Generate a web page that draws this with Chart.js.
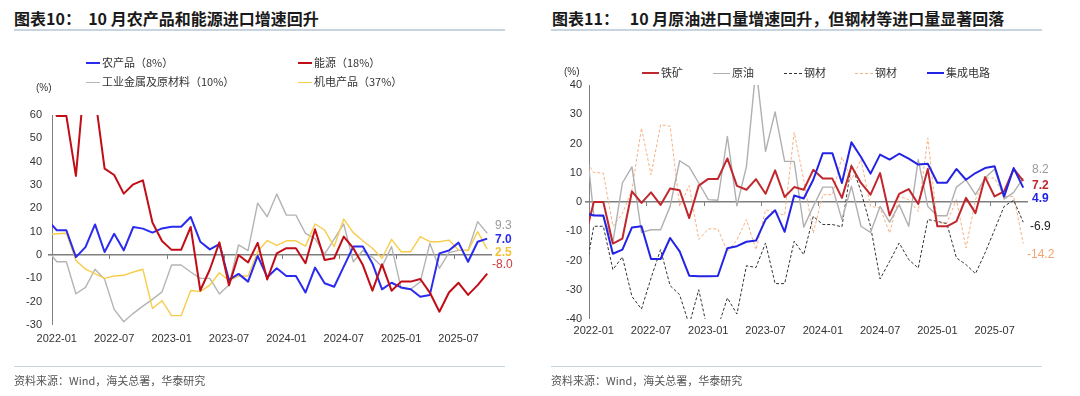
<!DOCTYPE html>
<html lang="zh-CN">
<head>
<meta charset="utf-8">
<title>进口增速</title>
<script src="https://cdn.jsdelivr.net/npm/chart.js@4.4.0/dist/chart.umd.min.js"></script>
<style>
  html, body { margin: 0; padding: 0; background: #fff; }
  body { width: 1080px; height: 396px; position: relative; overflow: hidden;
         font-family: "Liberation Sans", Arial, "Noto Sans CJK SC", sans-serif; }
  .title { position: absolute; top: 8px; font-family: "Noto Sans CJK SC", sans-serif; font-weight: 700;
           font-size: 16px; line-height: 20px; color: #1a1a1a; white-space: nowrap; }
  .rule { position: absolute; top: 29px; height: 2px; background: #c8d4e0; }
  .src-rule { position: absolute; top: 366px; height: 1px; background: #c8d4e0; }
  .source { position: absolute; top: 372px; font-family: "Noto Sans CJK SC", sans-serif; font-size: 11px;
            line-height: 16px; color: #555; white-space: nowrap; }
  .box { position: absolute; top: 0; width: 540px; height: 396px; }
  .lg { position: absolute; font-family: "Noto Sans CJK SC", sans-serif; font-size: 11px; line-height: 14px;
        color: #333; white-space: nowrap; }
  .sw { display: inline-block; width: 14px; height: 0; vertical-align: middle; margin-right: 2px; position: relative; top: -1px; }
  .unit { position: absolute; font-size: 10px; color: #333; line-height: 12px; }
  .end { position: absolute; font-size: 12px; line-height: 14px; font-family: "Liberation Sans", Arial, sans-serif; }
</style>
</head>
<body>

<div class="title" style="left:14px;">图表10：&nbsp; 10 月农产品和能源进口增速回升</div>
<div class="rule" style="left:14px; width:491px;"></div>
<div class="title" style="left:552px;">图表11：&nbsp;&nbsp; 10 月原油进口量增速回升，但钢材等进口量显著回落</div>
<div class="rule" style="left:551px; width:491px;"></div>

<div class="box" style="left:0;"><canvas id="leftChart" width="540" height="396"></canvas></div>
<div class="box" style="left:540px;"><canvas id="rightChart" width="540" height="396"></canvas></div>

<!-- 图例：左图 -->
<div class="lg" style="left:86px; top:55px;"><span class="sw" style="border-top:2px solid #2b2bef;"></span>农产品（8%）</div>
<div class="lg" style="left:298px; top:55px;"><span class="sw" style="border-top:2px solid #c00d16;"></span>能源（18%）</div>
<div class="lg" style="left:86px; top:74px;"><span class="sw" style="border-top:1px solid #b4b4b4;"></span>工业金属及原材料（10%）</div>
<div class="lg" style="left:298px; top:74px;"><span class="sw" style="border-top:1px solid #f7cd4c;"></span>机电产品（37%）</div>
<div class="unit" style="left:36px; top:82px;">(%)</div>

<!-- 图例：右图 -->
<div class="unit" style="left:564px; top:66px;">(%)</div>
<div class="lg" style="left:642px; top:65px;"><span class="sw" style="width:17px; border-top:2px solid #c0282e;"></span>铁矿</div>
<div class="lg" style="left:713px; top:65px;"><span class="sw" style="width:17px; border-top:1px solid #b0b0b0;"></span>原油</div>
<div class="lg" style="left:784px; top:65px;"><span class="sw" style="width:18px; border-top:1px dashed #333;"></span>钢材</div>
<div class="lg" style="left:855px; top:65px;"><span class="sw" style="width:18px; border-top:1px dashed #f4b183;"></span>钢材</div>
<div class="lg" style="left:927px; top:65px;"><span class="sw" style="width:17px; border-top:2px solid #2323e6;"></span>集成电路</div>

<!-- 末值标注 -->
<div class="end" style="left:495px; top:218px; color:#9a9a9a;">9.3</div>
<div class="end" style="left:495px; top:232px; color:#2b2bef; font-weight:700;">7.0</div>
<div class="end" style="left:495px; top:245px; color:#f3c13a; font-weight:700;">2.5</div>
<div class="end" style="left:492px; top:257px; color:#d03a3a;">-8.0</div>

<div class="end" style="left:1032px; top:162px; color:#9a9a9a;">8.2</div>
<div class="end" style="left:1032px; top:178px; color:#c0282e; font-weight:700;">7.2</div>
<div class="end" style="left:1032px; top:191px; color:#2323e6; font-weight:700;">4.9</div>
<div class="end" style="left:1030px; top:219px; color:#222;">-6.9</div>
<div class="end" style="left:1027px; top:247px; color:#f4a46e;">-14.2</div>

<div class="src-rule" style="left:14px; width:491px;"></div>
<div class="src-rule" style="left:551px; width:491px;"></div>
<div class="source" style="left:14px;">资料来源：Wind，海关总署，华泰研究</div>
<div class="source" style="left:551px;">资料来源：Wind，海关总署，华泰研究</div>

<script>
// ---------------- 数据 ----------------
// 月份（首个月份只用于画出坐标轴左侧被裁掉的那一小段）
const months = [
  '2021-12',
  '2022-01','2022-02','2022-03','2022-04','2022-05','2022-06','2022-07','2022-08','2022-09','2022-10','2022-11','2022-12',
  '2023-01','2023-02','2023-03','2023-04','2023-05','2023-06','2023-07','2023-08','2023-09','2023-10','2023-11','2023-12',
  '2024-01','2024-02','2024-03','2024-04','2024-05','2024-06','2024-07','2024-08','2024-09','2024-10','2024-11','2024-12',
  '2025-01','2025-02','2025-03','2025-04','2025-05','2025-06','2025-07','2025-08','2025-09','2025-10'
];
const xTickLabels = ['2022-01','2022-07','2023-01','2023-07','2024-01','2024-07','2025-01','2025-07'];

// 图表10：进口金额同比（%）
const agriProducts = [15.2, 10.6, 10.6, -0.9, 3.4, 13.1, 1.3, 9.1, 2.0, 12.0, 11.3, 9.6, 11.4, 12.1, 12.1, 16.3, 5.7, 2.4, 4.7,
  -10.7, -8.1, -11.4, -0.4, -9.5, -5.7, -9.0, -9.0, -16.1, -5.4, -12.1, -13.6, -5.0, 3.6, 3.6, -3.6, -14.7, -11.9, -13.9,
  -14.7, -17.9, -17.1, 0.7, 1.9, 5.3, -2.9, 5.7, 7.0];
const energy = [70, 59.6, 59.6, 33.9, 80, 68, 37, 34.3, 26.3, 30.3, 32, 13.9, 6, 2.2, 2.2, 12, -15.2, -6.2, 5.4, -13, 0, -3.2,
  5.2, -10.5, 0.7, 2.9, 2.9, -3.5, 11, -2.1, -1.4, 7.9, 2.9, -4.3, -15.3, -4, -15.3, -11.4, -11.4, -10.3, -16.1, -24.3,
  -16.1, -11.9, -17.1, -12.9, -8.0];
const metals = [2.1, -2.9, -2.9, -16.6, -13.9, -6.1, -10.4, -23.3, -28.6, -25, -21.9, -19, -15.8, -4.3, -4.3, -7.3, -10, -10,
  -16.7, -12.9, 4.3, 1.9, 22.2, 16.4, 26.1, 17.1, 17.1, 9.3, 7, 0.4, 6.8, 13.3, -2.9, 1.9, -1, -5, 3.6, -14.3, -14.7, -11.5,
  5, -5.7, 1, 2, 2, 14.3, 9.3];
const electromech = [8.7, 9.1, 9.3, -2.3, -6.1, -8, -10, -9, -8.7, -7.3, -6.1, -22.9, -19.6, -26, -26, -15.2, -15.7, -12.9,
  -7.6, -11, -9, -9, 1.4, 6.2, 4.1, 6.1, 6.1, 3.8, 13.3, 10.7, 3.6, 15.4, 9.6, 6.1, 2.9, -1.4, 6.7, 1.4, 1.4, 7.9, 5.7, 5.7,
  6.4, 2.1, 1.9, 10, 2.5];

// 图表11：进口数量同比（%）
const ironOre = [-13.2, 0, 0, -14.2, -12.5, 3.6, -0.3, 3.3, -1, 4.6, 4, -5.5, 5.6, 7.9, 7.9, 14.9, 5.5, 4.2, 7.8, 2.8, 10.8,
  1.7, 5.1, 4.2, 11, 8, 8, 1.4, 12.2, 6.5, 2.5, 9.9, -4.6, 2.8, 4.4, -0.7, 11.3, -8.3, -8.3, -6.6, 1.4, -3.8, 8.5, 1.9, 3.6,
  11.3, 7.2];
const crudeOil = [27, -4.5, -5, -13.8, 6.5, 12, -10.4, -9.5, -9.5, -1.5, 14.1, 12, 6.5, 0.8, 0.6, 22.4, -1.3, 12.2, 46, 17.3,
  30.8, 13.9, 13.9, -8.6, -1.5, 5.1, 5.1, -6, 5.4, -8.3, -10.4, -1.5, -6.9, -0.9, -8.3, 14.5, -1.5, -4.7, -4.7, 5.1, 7.6, 2.5,
  8.2, 11.3, 1, 3.3, 8.2];
const steelA = [-26.5, -8.3, -8.3, -23.1, -18.8, -32.3, -36.6, -26, -16.3, -28.6, -31.7, -42, -30, -45, -43, -32.8, -38.3,
  -21.8, -22.4, -14, -27.9, -27.9, -13.4, -18, -4.9, -7.7, -7.7, -8.5, 12.9, 3.6, -8.3, -26.3, -20.3, -14, -19.7, -22.6, -6,
  -6.6, -7.4, -19.1, -21.4, -24.5, -17.4, -9.5, -1.5, 0.6, -6.9];
const steelB = [14.7, 10.1, 9.9, -8.3, -4, 4.2, 25.3, 9.3, 26.4, 25.9, -1.5, 5.6, -12.8, -9.2, -9.2, -17, -13, -6, -16.3,
  -2.7, -3.5, -4.5, 23.8, 7.6, -10.6, 2.5, 2.5, 15.4, 7.6, 14.5, -1.5, -2, -10.6, 1.9, 0.8, -3.2, 21.9, -7.2, -7.2, 0.8,
  -15.7, 0.8, 8.2, 8.2, 1.9, 1.9, -14.2];
const chips = [-3.7, -4.6, -4.6, -17.7, -16.3, -8.7, -8.3, -19.5, -19.5, -12.3, -16.9, -25.2, -25.4, -25.4, -25.3, -15.8,
  -15.1, -13.6, -13.2, -6, -2.8, -10.2, 2.2, 1.2, 7.6, 16.7, 16.7, 6.5, 20.4, 15.4, 9.7, 16.2, 14.5, 16.5, 14.8, 12.8, 13.1,
  6.6, 6.6, 11.3, 7.6, 9.9, 11.6, 12.2, 1.9, 11.6, 4.9];

// ---------------- 公用设置 ----------------
const AXIS_GREY = '#7f7f7f';
const TICK_FONT = { family: '"Liberation Sans", Arial, sans-serif', size: 11 };

function toPoints(values) {
  // 横轴用月份序号，2022-01 为 0
  return values.map((v, i) => ({ x: i - 1, y: v }));
}

function lineSet(label, values, color, width, dash) {
  return {
    label: label,
    data: toPoints(values),
    borderColor: color,
    backgroundColor: color,
    borderWidth: width,
    borderDash: dash || [],
    borderJoinStyle: 'round',
    pointRadius: 0,
    tension: 0,
    clip: 0
  };
}

// 零轴上的小刻度（落在两个月份之间）
const zeroTicks = {
  id: 'zeroTicks',
  afterDatasetsDraw(chart) {
    const { ctx, scales: { x, y } } = chart;
    const y0 = y.getPixelForValue(0);
    ctx.save();
    ctx.strokeStyle = AXIS_GREY;
    ctx.lineWidth = 1;
    xTickLabels.slice(1).forEach(l => {
      const px = Math.round(x.getPixelForValue(months.indexOf(l) - 1.5)) + 0.5;
      ctx.beginPath();
      ctx.moveTo(px, y0);
      ctx.lineTo(px, y0 + 4);
      ctx.stroke();
    });
    ctx.restore();
  }
};

function makeOptions(cfg) {
  return {
    responsive: false,
    animation: false,
    devicePixelRatio: 1,
    layout: { padding: cfg.padding },
    plugins: { legend: { display: false }, tooltip: { enabled: false } },
    scales: {
      x: {
        type: 'linear',
        min: -0.5,
        max: months.length - 1.5,
        grid: { display: false, drawTicks: false },
        border: { display: false },
        afterBuildTicks(scale) {
          scale.ticks = xTickLabels.map(l => ({ value: months.indexOf(l) - 1 }));
        },
        afterFit(scale) { scale.height = 25; },
        ticks: {
          autoSkip: false,
          maxRotation: 0,
          padding: cfg.xPad,
          color: '#333',
          font: TICK_FONT,
          callback: v => months[v + 1]
        }
      },
      y: {
        min: cfg.yMin,
        max: cfg.yMax,
        afterFit(scale) { scale.width = cfg.yWidth; },
        grid: {
          color: c => (c.tick && c.tick.value === 0 ? AXIS_GREY : 'rgba(0,0,0,0)'),
          lineWidth: c => (c.tick && c.tick.value === 0 ? 1.6 : 0),
          tickColor: AXIS_GREY,
          tickLength: 4,
          drawTicks: true
        },
        border: { display: true, color: AXIS_GREY, width: 1 },
        ticks: { stepSize: 10, padding: cfg.yPad, color: '#333', font: TICK_FONT }
      }
    }
  };
}

// ---------------- 图表10 ----------------
new Chart(document.getElementById('leftChart'), {
  type: 'line',
  data: {
    datasets: [
      lineSet('能源（18%）', energy, '#c00d16', 2),
      lineSet('农产品（8%）', agriProducts, '#2b2bef', 2),
      lineSet('机电产品（37%）', electromech, '#f7cd4c', 1.4),
      lineSet('工业金属及原材料（10%）', metals, '#b4b4b4', 1.4)
    ]
  },
  options: makeOptions({
    padding: { left: 0, right: 48, top: 115, bottom: 46 },
    yMin: -30, yMax: 60, yWidth: 52, yPad: 6, xPad: 7
  }),
  plugins: [zeroTicks]
});

// ---------------- 图表11 ----------------
new Chart(document.getElementById('rightChart'), {
  type: 'line',
  data: {
    datasets: [
      lineSet('集成电路', chips, '#2323e6', 2),
      lineSet('铁矿', ironOre, '#c0282e', 2),
      lineSet('原油', crudeOil, '#b0b0b0', 1.4),
      lineSet('钢材', steelA, '#333333', 1, [3, 2]),
      lineSet('钢材', steelB, '#f4b183', 1, [3, 2])
    ]
  },
  options: makeOptions({
    padding: { left: 0, right: 52, top: 85, bottom: 52 },
    yMin: -40, yMax: 40, yWidth: 49, yPad: 3, xPad: 5
  }),
  plugins: [zeroTicks]
});
</script>
</body>
</html>
